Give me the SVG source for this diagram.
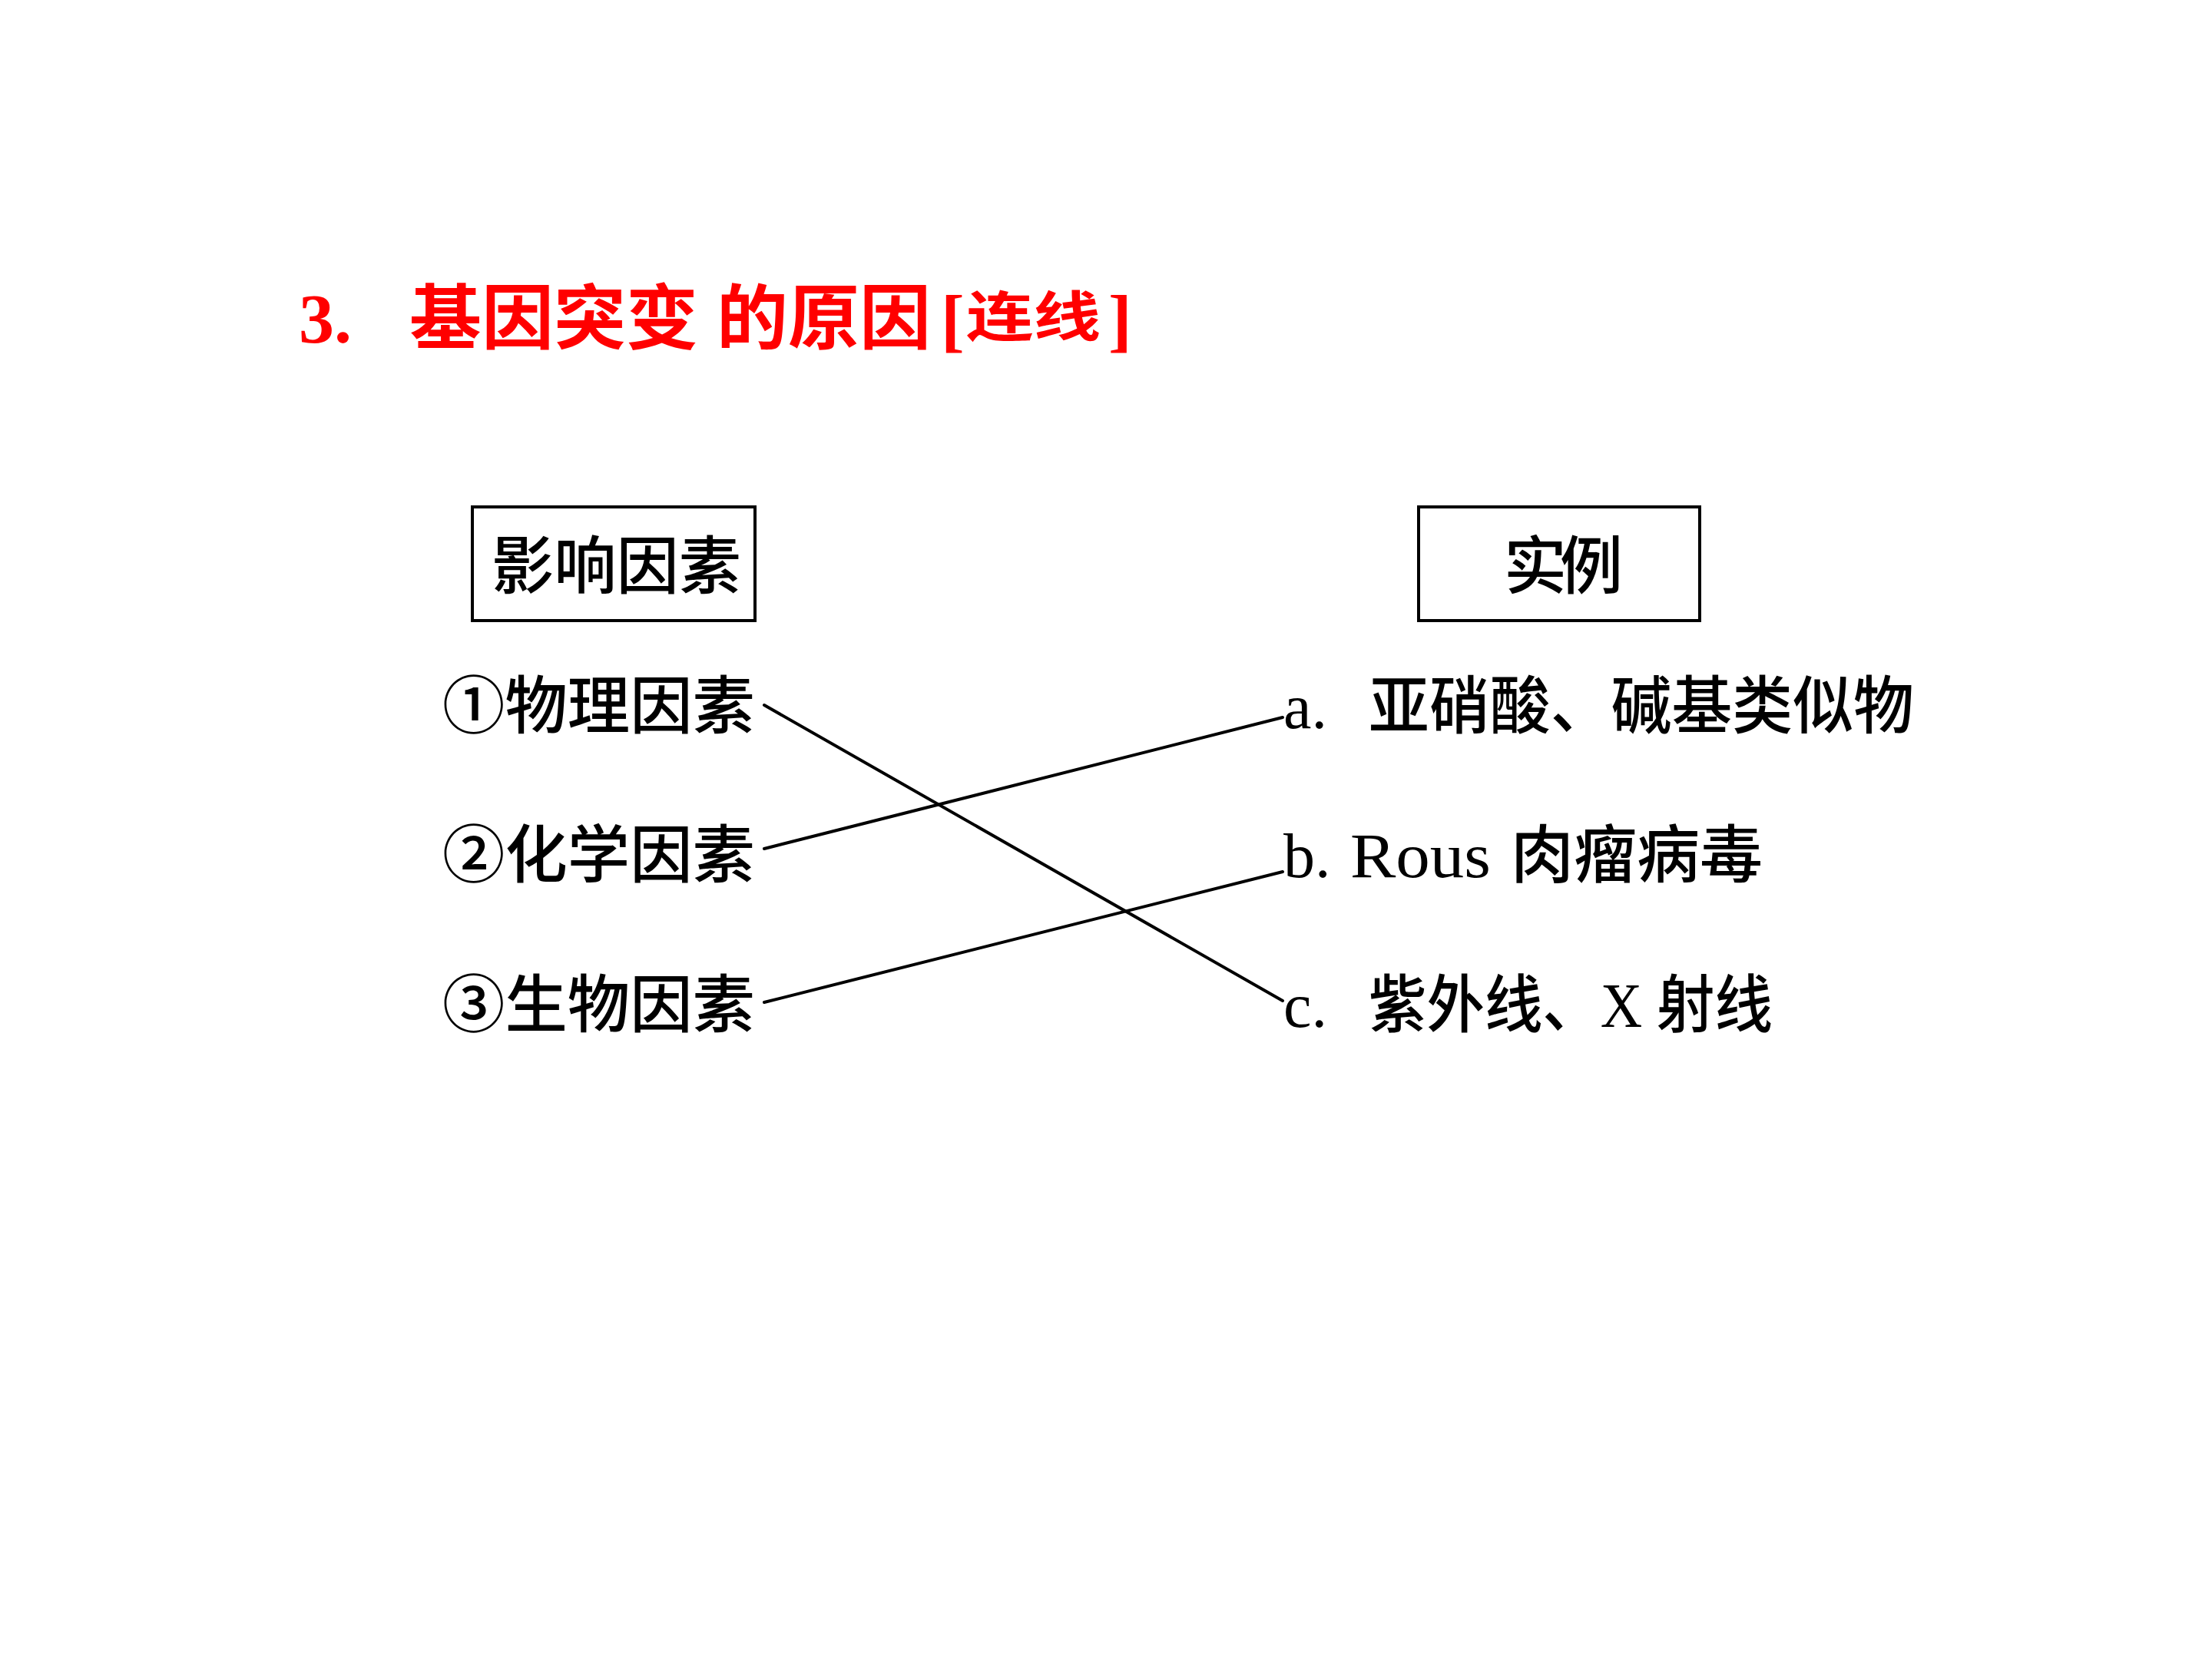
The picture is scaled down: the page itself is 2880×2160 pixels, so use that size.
<svg xmlns="http://www.w3.org/2000/svg" width="2880" height="2160" viewBox="0 0 2880 2160">
<style>
.title{font-family:"Liberation Serif","Noto Sans CJK SC",serif;font-weight:bold;fill:#ff0000;}
.t{font-family:"Liberation Serif","Noto Sans CJK SC",serif;font-size:82px;font-weight:500;fill:#000;}
.box{fill:#fff;stroke:#000;stroke-width:4;}
.conn line{stroke:#000;stroke-width:4;stroke-linecap:round;}
</style>
<rect width="2880" height="2160" fill="#fff"/>
<g id="title">
<text class="title" x="389" y="446" font-size="92">3.</text>
<text class="title" x="533" y="447" font-size="92" textLength="376" lengthAdjust="spacingAndGlyphs">基因突变</text>
<text class="title" x="933" y="447" font-size="92" textLength="279" lengthAdjust="spacingAndGlyphs">的原因</text>
<text class="title" x="1225" y="447" font-size="92">[</text>
<text class="title" x="1258" y="438" font-size="70" textLength="175" lengthAdjust="spacingAndGlyphs">连线</text>
<text class="title" x="1443" y="447" font-size="92">]</text>
</g>
<g id="header-left">
<rect class="box" x="615" y="660" width="368" height="148"/>
<text class="t" x="640" y="766" font-size="80" textLength="325" lengthAdjust="spacingAndGlyphs">影响因素</text>
</g>
<g id="header-right">
<rect class="box" x="1847" y="660" width="366" height="148"/>
<text class="t" x="1958" y="766" font-size="80" textLength="155" lengthAdjust="spacing">实例</text>
</g>
<g id="left-1"><text class="t" x="576" y="948" textLength="407" lengthAdjust="spacingAndGlyphs">①物理因素</text></g>
<g id="left-2"><text class="t" x="576" y="1142" textLength="407" lengthAdjust="spacingAndGlyphs">②化学因素</text></g>
<g id="left-3"><text class="t" x="576" y="1337" textLength="407" lengthAdjust="spacingAndGlyphs">③生物因素</text></g>
<g id="right-a"><text class="t" y="948"><tspan x="1671">a.</tspan><tspan x="1782" textLength="710" lengthAdjust="spacingAndGlyphs">亚硝酸、碱基类似物</tspan></text></g>
<g id="right-b"><text class="t" y="1142"><tspan x="1671">b.</tspan><tspan x="1758" textLength="183" lengthAdjust="spacingAndGlyphs">Rous</tspan><tspan x="1967" textLength="328" lengthAdjust="spacingAndGlyphs">肉瘤病毒</tspan></text></g>
<g id="right-c"><text class="t" y="1337"><tspan x="1671">c.</tspan><tspan x="1782" textLength="526" lengthAdjust="spacingAndGlyphs">紫外线、X 射线</tspan></text></g>
<g id="connectors" class="conn">
<line x1="995" y1="918" x2="1670" y2="1303"/>
<line x1="995" y1="1105" x2="1670" y2="934"/>
<line x1="995" y1="1305" x2="1670" y2="1135"/>
</g>
</svg>
